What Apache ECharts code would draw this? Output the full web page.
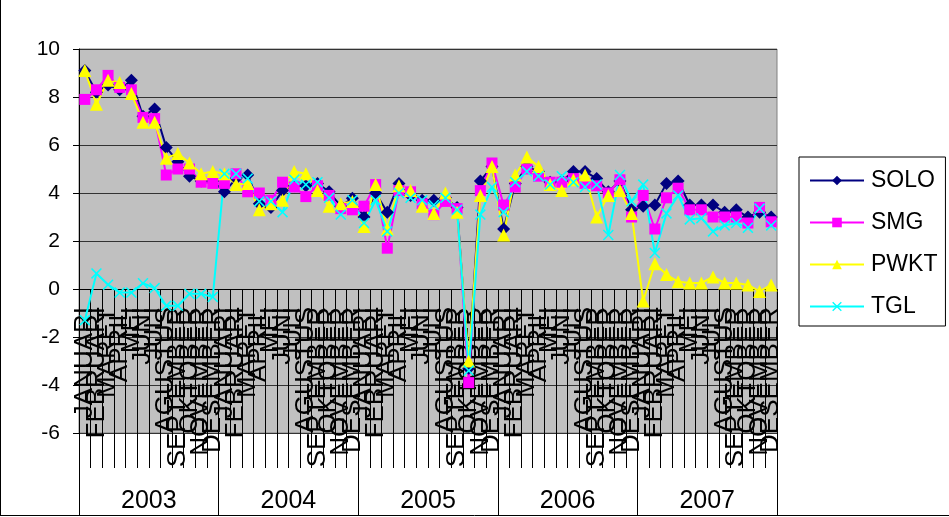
<!DOCTYPE html>
<html>
<head>
<meta charset="utf-8">
<script src="https://cdn.jsdelivr.net/npm/echarts@6/dist/echarts.min.js"></script>
<style>
  html, body { margin: 0; padding: 0; background: #fff; }
  #grafico { width: 949px; height: 517px; }
</style>
</head>
<body>
<div id="grafico"></div>
<script>
// Bulan dan tahun
const bulan = ['JANUARI', 'FEBRUARI', 'MARET', 'APRIL', 'MEI', 'JUNI', 'JULI',
	'AGUSTUS', 'SEPTEMBER', 'OKTOBER', 'NOVEMBER', 'DESEMBER'];
const tahun = ['2003', '2004', '2005', '2006', '2007'];
const kategori = tahun.flatMap(() => bulan);

const yTicks = [-6, -4, -2, 0, 2, 4, 6, 8, 10];

// Nilai tiap seri
const solo = [
	9.1, 8.2, 8.5, 8.3, 8.7, 7.2, 7.5, 5.9, 5.3, 4.7, 4.5, 4.5,
	4.05, 4.6, 4.75, 3.55, 3.4, 4.1, 4.3, 4.3, 4.4, 4.05, 3.45, 3.78,
	3.0, 4.0, 3.2, 4.4, 3.9, 3.7, 3.7, 3.8, 3.4, -3.3, 4.5, 5.1,
	2.5, 4.4, 5.1, 4.9, 4.45, 4.5, 4.9, 4.9, 4.6, 4.05, 4.5, 3.3,
	3.45, 3.5, 4.4, 4.5, 3.5, 3.5, 3.5, 3.2, 3.3, 3.0, 3.2, 3.0
];
const smg = [
	7.9, 8.3, 8.9, 8.4, 8.3, 7.15, 7.1, 4.75, 5.0, 5.0, 4.45, 4.4,
	4.4, 4.8, 4.05, 4.0, 3.7, 4.45, 4.25, 3.85, 4.3, 3.9, 3.35, 3.3,
	3.45, 4.35, 1.7, 4.1, 4.05, 3.55, 3.1, 3.65, 3.35, -3.9, 4.1, 5.25,
	3.5, 4.25, 5.0, 4.7, 4.45, 4.45, 4.6, 4.4, 4.3, 4.0, 4.55, 3.0,
	3.9, 2.5, 3.8, 4.2, 3.3, 3.3, 3.0, 3.0, 3.0, 2.75, 3.4, 2.8
];
const pwkt = [
	9.1, 7.7, 8.7, 8.6, 8.15, 6.95, 6.95, 5.45, 5.65, 5.25, 4.8, 4.9,
	4.8, 4.35, 4.4, 3.3, 3.55, 3.7, 4.9, 4.8, 4.1, 3.45, 3.55, 3.65,
	2.6, 4.35, 2.5, 4.3, 4.1, 3.45, 3.15, 4.0, 3.2, -3.0, 3.9, 5.1,
	2.25, 4.75, 5.5, 5.1, 4.35, 4.1, 4.55, 4.75, 3.0, 3.9, 4.1, 3.15,
	-0.5, 1.05, 0.6, 0.3, 0.25, 0.25, 0.5, 0.25, 0.25, 0.17, -0.1, 0.17
];
const tgl = [
	-1.3, 0.65, 0.18, -0.15, -0.15, 0.24, 0.04, -0.7, -0.7, -0.2, -0.2, -0.33,
	4.8, 4.8, 4.6, 3.65, 3.65, 3.2, 4.55, 4.35, 4.45, 3.8, 3.1, 3.7,
	2.75, 3.7, 2.4, 4.0, 3.8, 3.7, 3.5, 3.8, 3.3, -3.4, 3.1, 4.25,
	3.2, 4.45, 4.9, 4.7, 4.35, 4.7, 4.45, 4.25, 4.35, 2.25, 4.75, 3.65,
	4.35, 1.5, 3.15, 3.9, 2.9, 2.95, 2.4, 2.65, 2.75, 2.55, 3.35, 2.65
];

const fonte = "'Liberation Sans', Arial, sans-serif";
const simboloX = 'path://M0,1L1,0L5,4L9,0L10,1L6,5L10,9L9,10L5,6L1,10L0,9L4,5Z';

function serie(nome, dados, cor, simbolo, tamanho) {
	return {
		name: nome,
		type: 'line',
		data: dados,
		symbol: simbolo,
		symbolSize: tamanho,
		showAllSymbol: true,
		lineStyle: { color: cor, width: 2 },
		itemStyle: { color: cor },
		xAxisIndex: 0,
		yAxisIndex: 0,
		z: 5,
		animation: false
	};
}

const grafico = echarts.init(document.getElementById('grafico'));

// grid 0 = área do gráfico; grid 1 = mesma largura, termina na linha do zero (eixo dos meses)
const option = {
	animation: false,
	textStyle: { fontFamily: fonte },
	grid: [{
		left: 79, right: 172, top: 49, bottom: 84,
		outerBoundsMode: 'none',
		containLabel: false,
		show: true,
		backgroundColor: '#C0C0C0',
		borderColor: '#808080',
		borderWidth: 1
	}, {
		left: 79, right: 172, top: 49, bottom: 228,
		outerBoundsMode: 'none',
		containLabel: false,
		show: false
	}],
	legend: {
		orient: 'vertical',
		left: 799, top: 157,
		width: 149,
		padding: [12, 8, 8, 10],
		itemWidth: 54,
		itemHeight: 12,
		itemGap: 19,
		borderColor: '#000',
		borderWidth: 1,
		textStyle: { fontSize: 23, color: '#000', fontFamily: fonte, padding: [0, 0, 0, 2] },
		data: ['SOLO', 'SMG', 'PWKT', 'TGL']
	},
	xAxis: [{
		gridIndex: 0,
		type: 'category',
		data: kategori,
		show: false
	}, {
		gridIndex: 0,
		type: 'category',
		data: tahun,
		position: 'bottom',
		offset: 35,
		axisLine: { show: false, onZero: false },
		axisTick: { show: true, interval: 0, length: 48, lineStyle: { color: '#000', width: 1 } },
		axisLabel: { interval: 0, margin: 21, fontSize: 25, color: '#000', fontFamily: fonte },
		splitLine: { show: false }
	}, {
		gridIndex: 1,
		type: 'category',
		data: kategori,
		position: 'bottom',
		axisLine: { show: true, onZero: false, lineStyle: { color: '#000', width: 1 } },
		axisTick: { show: true, interval: 0, length: 179, lineStyle: { color: '#000', width: 1 } },
		axisLabel: {
			interval: 0, rotate: 90, margin: 18, hideOverlap: false,
			fontSize: 26, color: '#000', fontFamily: fonte
		},
		splitLine: { show: false }
	}],
	yAxis: [{
		gridIndex: 0,
		type: 'value',
		min: yTicks[0],
		max: yTicks[yTicks.length - 1],
		interval: 2,
		axisLine: { show: true, onZero: false, lineStyle: { color: '#000', width: 1 } },
		axisTick: { show: true, length: 6, lineStyle: { color: '#000' } },
		axisLabel: { fontSize: 21, color: '#000', margin: 19, fontFamily: fonte },
		splitLine: { show: true, lineStyle: { color: '#333', width: 1 } }
	}, {
		gridIndex: 1,
		type: 'value',
		min: 0,
		max: 10,
		show: false
	}],
	series: [
		serie('SOLO', solo, '#000080', 'diamond', 13),
		serie('SMG', smg, '#FF00FF', 'rect', 11),
		serie('PWKT', pwkt, '#FFFF00', 'triangle', 13),
		serie('TGL', tgl, '#00FFFF', simboloX, 11)
	],
	graphic: [
		{ type: 'line', shape: { x1: 0.5, y1: 0, x2: 0.5, y2: 516 }, style: { stroke: '#000', lineWidth: 1 } },
		{ type: 'line', shape: { x1: 0, y1: 515.5, x2: 949, y2: 515.5 }, style: { stroke: '#000', lineWidth: 1 } }
	]
};

grafico.setOption(option);
</script>
</body>
</html>
